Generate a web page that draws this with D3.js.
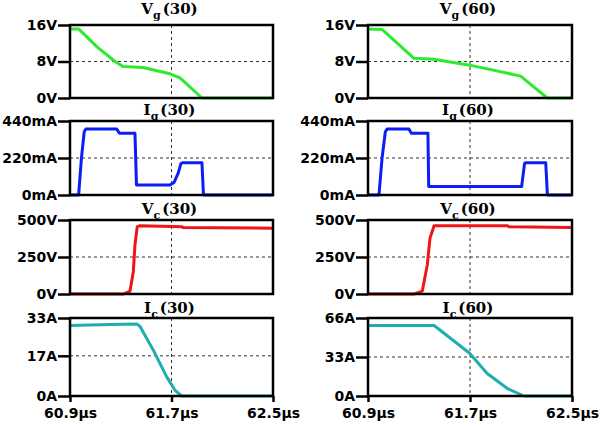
<!DOCTYPE html>
<html>
<head>
<meta charset="utf-8">
<script src="https://cdn.jsdelivr.net/npm/d3@7"></script>
<style>
  body { margin: 0; background: #fff; }
  .tick text { font-family: "DejaVu Sans", sans-serif; font-weight: bold; font-size: 14px; fill: #000; }
  .ttl { font-family: "DejaVu Serif", serif; font-weight: bold; font-size: 15px; }
</style>
</head>
<body>
<svg id="chart" width="608" height="426"></svg>
<script>
// time axis (µs)
var timeTicks = [60.9, 61.7, 62.5];
var timeLabels = ["60.9µs", "61.7µs", "62.5µs"];

// [time µs, value]
var vg30 = [[60.9,15.1],[60.97,15.1],[61.113,11.2],[61.255,8.0],[61.318,6.9],[61.475,6.7],[61.688,5.3],[61.767,4.4],[61.94,0],[62.5,0]];
var vg60 = [[60.9,15.1],[61.012,15.0],[61.261,8.7],[61.418,8.5],[61.697,7.2],[62.097,4.8],[62.306,0],[62.5,0]];
var ig30 = [[60.9,0],[60.968,0],[60.99,218],[61.012,376],[61.025,392],[61.268,392],[61.29,367],[61.412,367],[61.424,59],[61.688,59],[61.72,75],[61.752,129],[61.775,188],[61.79,192],[61.94,192],[61.952,0],[62.5,0]];
var ig60 = [[60.9,0],[60.986,0],[61.01,218],[61.036,376],[61.05,392],[61.221,392],[61.24,367],[61.37,367],[61.376,50],[62.105,50],[62.128,188],[62.14,192],[62.294,192],[62.307,0],[62.5,0]];
var vc30 = [[60.9,0],[61.32,0],[61.373,20],[61.399,151],[61.412,331],[61.43,455],[61.452,461],[61.78,455],[61.79,450],[62.5,444]];
var vc60 = [[60.9,0],[61.261,0],[61.326,20],[61.365,196],[61.386,376],[61.418,461],[61.993,461],[62.005,455],[62.5,449]];
var ic30 = [[60.9,29.8],[61.215,30.3],[61.426,30.5],[61.452,29.4],[61.556,19.5],[61.662,8.1],[61.728,2.4],[61.78,0],[62.5,0]];
var ic60 = [[60.9,59.7],[61.418,59.7],[61.444,57.5],[61.697,36.2],[61.835,19.1],[61.993,6.3],[62.124,0],[62.5,0]];

// y ticks per row
var vgTicks = [0, 8, 16], vgLabels = ["0V", "8V", "16V"];
var igTicks = [0, 220, 440], igLabels = ["0mA", "220mA", "440mA"];
var vcTicks = [0, 250, 500], vcLabels = ["0V", "250V", "500V"];
var ic30Ticks = [0, 17, 33], ic30Labels = ["0A", "17A", "33A"];
var ic60Ticks = [0, 33, 66], ic60Labels = ["0A", "33A", "66A"];

var svg = d3.select("#chart");
var cols = [[70, 273], [368, 572]];
var rows = [[25, 98, 14], [121, 195, 115], [220, 294, 214], [318, 396, 313]];

var panels = [
  { col: 0, row: 0, data: vg30, ticks: vgTicks, labels: vgLabels, color: "#2eea2e", name: "V", sub: "g", tag: "(30)" },
  { col: 1, row: 0, data: vg60, ticks: vgTicks, labels: vgLabels, color: "#2eea2e", name: "V", sub: "g", tag: "(60)" },
  { col: 0, row: 1, data: ig30, ticks: igTicks, labels: igLabels, color: "#0a1ef5", name: "I", sub: "g", tag: "(30)" },
  { col: 1, row: 1, data: ig60, ticks: igTicks, labels: igLabels, color: "#0a1ef5", name: "I", sub: "g", tag: "(60)" },
  { col: 0, row: 2, data: vc30, ticks: vcTicks, labels: vcLabels, color: "#f01414", name: "V", sub: "c", tag: "(30)" },
  { col: 1, row: 2, data: vc60, ticks: vcTicks, labels: vcLabels, color: "#f01414", name: "V", sub: "c", tag: "(60)" },
  { col: 0, row: 3, data: ic30, ticks: ic30Ticks, labels: ic30Labels, color: "#1eaeae", name: "I", sub: "c", tag: "(30)" },
  { col: 1, row: 3, data: ic60, ticks: ic60Ticks, labels: ic60Labels, color: "#1eaeae", name: "I", sub: "c", tag: "(60)" }
];

panels.forEach(drawPanel);

function drawPanel(p) {
  var xr = cols[p.col], yr = rows[p.row];
  var x = d3.scaleLinear().domain([60.9, 62.5]).range(xr);
  var y = d3.scaleLinear().domain([0, p.ticks[2]]).range([yr[1], yr[0]]);
  var g = svg.append("g");

  // dashed grid
  g.append("line")
    .attr("x1", x(timeTicks[1])).attr("x2", x(timeTicks[1]))
    .attr("y1", yr[0]).attr("y2", yr[1]);
  g.append("line")
    .attr("x1", xr[0]).attr("x2", xr[1])
    .attr("y1", y(p.ticks[1])).attr("y2", y(p.ticks[1]));
  g.selectAll("line").attr("stroke", "#333").attr("stroke-width", 1).attr("stroke-dasharray", "3,3");

  // signal
  var line = d3.line().x(function(d) { return x(d[0]); }).y(function(d) { return y(d[1]); });
  g.append("path").datum(p.data)
    .attr("d", line)
    .attr("fill", "none")
    .attr("stroke", p.color)
    .attr("stroke-width", 3)
    .attr("stroke-linejoin", "round");

  // frame
  g.append("rect")
    .attr("x", xr[0]).attr("y", yr[0])
    .attr("width", xr[1] - xr[0]).attr("height", yr[1] - yr[0])
    .attr("fill", "none").attr("stroke", "#000").attr("stroke-width", 2.5);

  // y axis
  var ya = g.append("g").attr("transform", "translate(" + xr[0] + ",0)")
    .call(d3.axisLeft(y).tickValues(p.ticks)
      .tickFormat(function(d, i) { return p.labels[i]; })
      .tickSize(12).tickPadding(1));
  ya.select(".domain").remove();
  ya.selectAll(".tick line").attr("stroke", "#000").attr("stroke-width", 2.5);

  // x axis on bottom row
  if (p.row === 3) {
    var xa = g.append("g").attr("transform", "translate(0," + yr[1] + ")")
      .call(d3.axisBottom(x).tickValues(timeTicks)
        .tickFormat(function(d, i) { return timeLabels[i]; })
        .tickSize(6).tickPadding(6));
    xa.select(".domain").remove();
    xa.selectAll(".tick line").attr("stroke", "#000").attr("stroke-width", 2.5);
  }

  // title
  var t = svg.append("text").attr("class", "ttl")
    .attr("x", (xr[0] + xr[1]) / 2 - 2).attr("y", yr[2])
    .attr("text-anchor", "middle");
  t.append("tspan").text(p.name);
  t.append("tspan").attr("font-size", "11px").attr("dy", 5).text(p.sub);
  t.append("tspan").attr("dy", -5).attr("dx", 2).text(p.tag);
}
</script>
</body>
</html>
